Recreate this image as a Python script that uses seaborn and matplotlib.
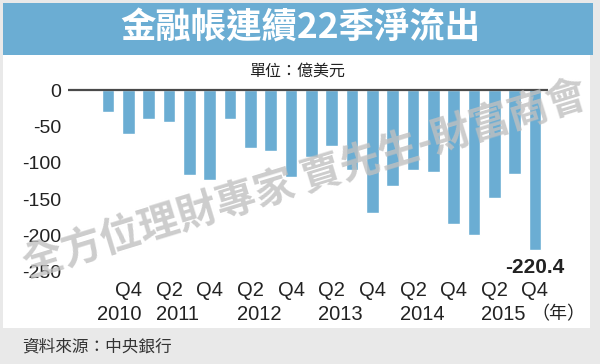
import pandas as pd
import matplotlib.pyplot as plt
import matplotlib.transforms as mtransforms
import seaborn as sns
from matplotlib.patches import Rectangle

# data: 22 consecutive quarters of net financial account outflow (億美元)
quarters = ["2010Q3", "2010Q4", "2011Q1", "2011Q2", "2011Q3", "2011Q4",
            "2012Q1", "2012Q2", "2012Q3", "2012Q4", "2013Q1", "2013Q2",
            "2013Q3", "2013Q4", "2014Q1", "2014Q2", "2014Q3", "2014Q4",
            "2015Q1", "2015Q2", "2015Q3", "2015Q4"]
outflow = [-30, -60, -40, -43, -117, -124, -39, -79, -84, -120, -92, -76,
           -110, -169, -132, -110, -113, -185, -200, -148, -116, -220.4]
tick_quarters = ["2010Q4", "2011Q2", "2011Q4", "2012Q2", "2012Q4", "2013Q2",
                 "2013Q4", "2014Q2", "2014Q4", "2015Q2", "2015Q4"]
tick_labels = ["Q4", "Q2", "Q4", "Q2", "Q4", "Q2", "Q4", "Q2", "Q4", "Q2", "Q4"]
year_quarters = ["2010Q4", "2011Q2", "2012Q2", "2013Q2", "2014Q2", "2015Q2"]
year_labels = ["2010", "2011", "2012", "2013", "2014", "2015"]
y_ticks = [0, -50, -100, -150, -200, -250]

title = "金融帳連續22季淨流出"
unit = "單位：億美元"
source = "資料來源：中央銀行"
watermark = "全方位理財專家 賈先生-財富商會"

sns.set_theme(style="white")
LATIN = ["Liberation Sans", "Noto Sans CJK TC", "DejaVu Sans"]
CJK = ["Noto Sans CJK TC", "DejaVu Sans"]
plt.rcParams["font.family"] = LATIN

BLUE = "#6badd3"
TXT = "#222222"

df = pd.DataFrame({"quarter": quarters, "value": outflow})

fig = plt.figure(figsize=(6, 3.64), dpi=100, facecolor="#e9e9e9")

# white panel, title banner
fig.patches.append(Rectangle((3 / 600, 1 - 328 / 364), 587 / 600, 273 / 364,
                             transform=fig.transFigure, facecolor="white",
                             edgecolor="none", zorder=-2))
fig.patches.append(Rectangle((3 / 600, 1 - 55 / 364), 590 / 600, 52 / 364,
                             transform=fig.transFigure, facecolor=BLUE,
                             edgecolor="none", zorder=-2))
fig.text(0.5, 1 - 28 / 364, title, ha="center", va="center", color="white",
         fontsize=25.5, fontweight="bold", family=CJK)
fig.text(297 / 600, 1 - 71 / 364, unit, ha="center", va="center", color=TXT,
         fontsize=11.5, family=CJK)
fig.text(22 / 600, 1 - 347 / 364, source, ha="left", va="center", color="#333333",
         fontsize=12, family=CJK)

ax = fig.add_axes([68 / 600, 0.2481, 480 / 600, 0.5093])
ax.set_facecolor("none")
sns.barplot(data=df, x="quarter", y="value", color=BLUE, width=0.62,
            saturation=1, ax=ax, zorder=2)
ax.axhline(0, color="#4a4a4a", lw=1.6, zorder=3)

ax.set_ylim(-253, 3)
ax.set_xlim(-1.97, 21.64)
ax.set_yticks(y_ticks)
ax.set_yticklabels([str(v) for v in y_ticks], family=LATIN)
ax.set_xticks([quarters.index(q) for q in tick_quarters])
ax.set_xticklabels(tick_labels, family=LATIN)
ax.tick_params(axis="y", direction="in", length=10.5, width=1.3, color="#333333",
               pad=5, labelsize=14, labelcolor=TXT)
ax.tick_params(axis="x", length=0, pad=5, labelsize=14.5, labelcolor=TXT)
ax.set_xlabel("")
ax.set_ylabel("")
for s in ax.spines.values():
    s.set_visible(False)

# year row under the quarter labels: first one right-aligned, others left-aligned
trans = mtransforms.blended_transform_factory(ax.transData, fig.transFigure)
for i, (q, yr) in enumerate(zip(year_quarters, year_labels)):
    ha = "right" if i == 0 else "left"
    dx = 9.5 if i == 0 else -9.5
    ax.annotate(yr, xy=(quarters.index(q), 1 - 314.5 / 364), xycoords=trans,
                xytext=(dx, 0), textcoords="offset points", ha=ha, va="center",
                fontsize=14.5, color=TXT, family=LATIN, annotation_clip=False)

ax.annotate(f"{outflow[-1]:.1f}", xy=(len(quarters) - 1, outflow[-1]),
            xytext=(0, -6), textcoords="offset points", ha="center", va="top",
            fontsize=15, fontweight="bold", color=TXT, family=LATIN)
fig.text(558 / 600, 1 - 314 / 364, "（年）", ha="center", va="center",
         color=TXT, fontsize=13, family=CJK)

# watermark
fig.text(305 / 600, 1 - 180 / 364, watermark, ha="center", va="center",
         rotation=17, rotation_mode="anchor", fontsize=29, fontweight="bold",
         color="#c0c0c0", alpha=0.8, family=CJK, zorder=10)

fig.savefig("out.png", dpi=100, facecolor=fig.get_facecolor())
